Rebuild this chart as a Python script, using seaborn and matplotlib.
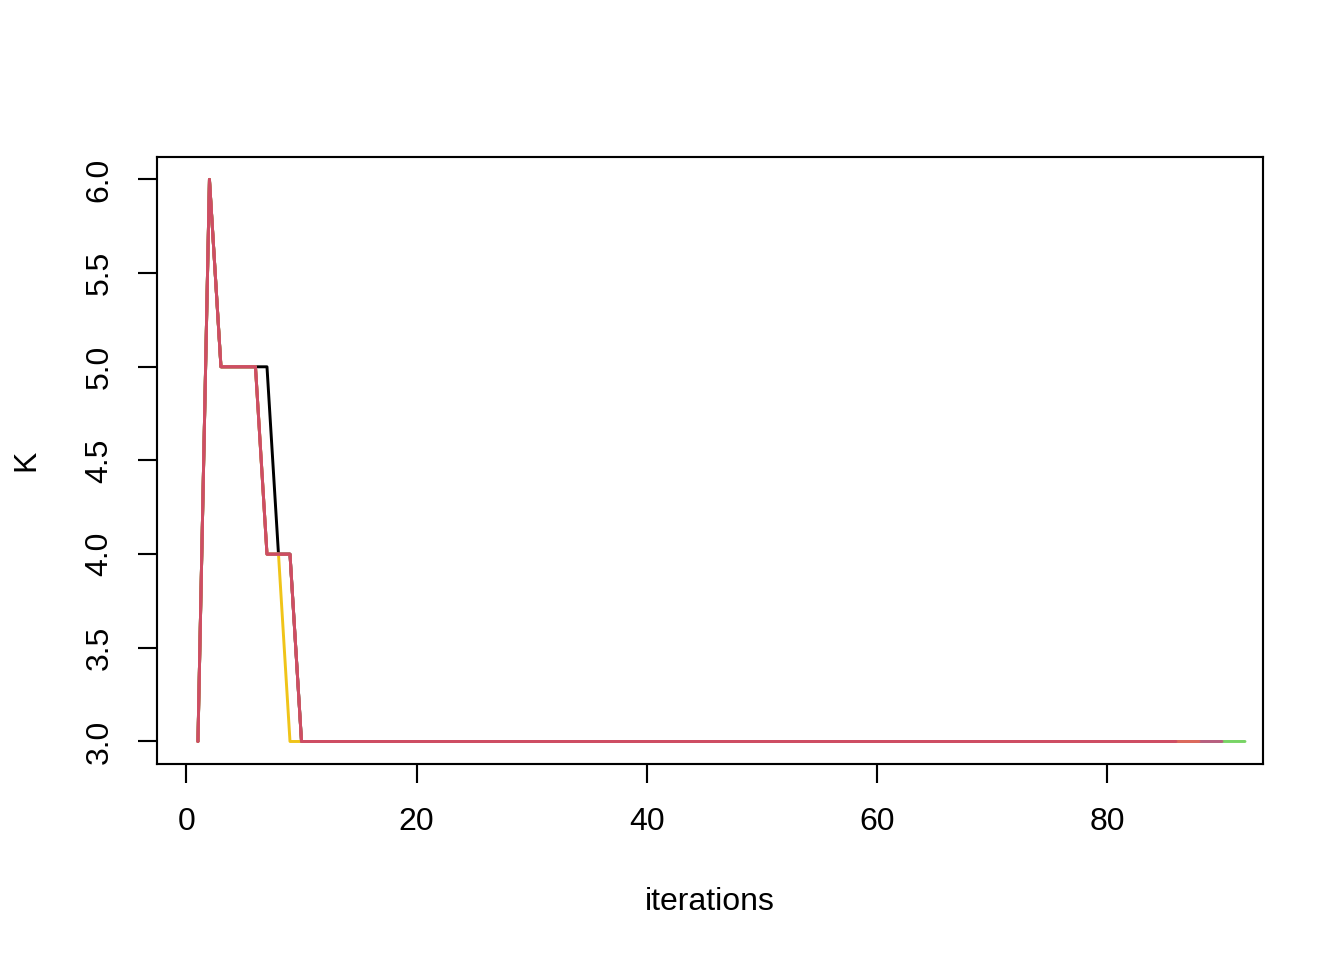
import pandas as pd
import matplotlib.pyplot as plt
import seaborn as sns

# K trace per chain: first values as read, then flat at 3 until the chain ends
chain_names = ["c1", "c2", "c3", "c4", "c5", "c6"]
chain_heads = [
    [3, 6, 5, 5, 5, 5, 5, 4, 4, 3],
    [3, 6, 5, 5, 5, 5, 4, 4, 3],
    [3, 6, 5, 5, 5, 5, 4, 4, 4, 3],
    [3, 6, 5, 5, 5, 5, 4, 4, 4, 3],
    [3, 6, 5, 5, 5, 5, 4, 4, 4, 3],
    [3, 6, 5, 5, 5, 5, 4, 4, 4, 3],
]
chain_lengths = [80, 84, 92, 90, 88, 86]
chain_colors = ["#000000", "#F0C419", "#78D465", "#B85E80", "#DC6A5C", "#CE4D64"]

rows = []
for name, head, n in zip(chain_names, chain_heads, chain_lengths):
    vals = head + [head[-1]] * (n - len(head))
    for i, v in enumerate(vals, start=1):
        rows.append({"iter": i, "K": v, "chain": name})
df = pd.DataFrame(rows)

sns.set_style("ticks")
plt.rcParams["font.family"] = ["Liberation Sans", "DejaVu Sans"]

fig = plt.figure(figsize=(7, 5), dpi=192)
ax = fig.add_axes([0.1168, 0.2042, 0.9397 - 0.1168, 0.8365 - 0.2042])

sns.lineplot(data=df, x="iter", y="K", hue="chain", hue_order=chain_names,
             palette=chain_colors, linewidth=1.1, legend=False, ax=ax,
             estimator=None)

ax.set_xlim(1 - 0.04 * 89, 90 + 0.04 * 89)
ax.set_ylim(3 - 0.04 * 3, 6 + 0.04 * 3)
ax.set_xticks([0, 20, 40, 60, 80])
ax.set_yticks([3.0, 3.5, 4.0, 4.5, 5.0, 5.5, 6.0])
ax.set_yticklabels(["3.0", "3.5", "4.0", "4.5", "5.0", "5.5", "6.0"],
                   rotation=90, va="center")
ax.tick_params(axis="both", labelsize=12, length=7, width=0.8,
               color="black", labelcolor="black", pad=9)
for s in ax.spines.values():
    s.set_visible(True)
    s.set_color("black")
    s.set_linewidth(0.8)

ax.set_xlabel("iterations", fontsize=12, labelpad=19, color="black")
ax.set_ylabel("K", fontsize=12, labelpad=16, color="black")

fig.savefig("out.png", dpi=192)
